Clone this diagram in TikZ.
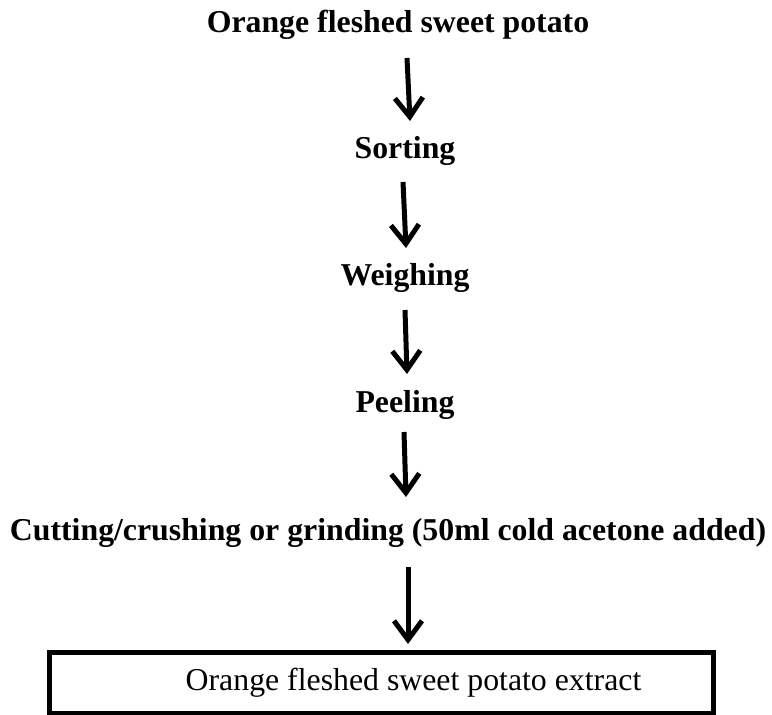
\documentclass[tikz,border=0pt]{standalone}
\usepackage{fontspec}
\setmainfont{Liberation Serif}
\usetikzlibrary{arrows.meta}
\begin{document}
\begin{tikzpicture}[x=1bp,y=-1bp,
  stepname/.style={anchor=base,inner sep=0pt,font=\fontsize{31.8bp}{38bp}\selectfont\bfseries},
  flowarrow/.style={line width=5bp,-{Straight Barb[length=19bp,width=28bp]}},
  finalbox/.style={draw,line width=5bp,minimum width=663bp,minimum height=61bp,inner sep=0pt,
    font=\fontsize{31.8bp}{38bp}\selectfont}]
\useasboundingbox (0,0) rectangle (772,715);
\node[stepname] (ofsp) at (398,33) {Orange fleshed sweet potato};
\node[stepname] (sort) at (405,158) {Sorting};
\node[stepname] (weigh) at (405,285) {Weighing};
\node[stepname] (peel) at (405,412) {Peeling};
\node[stepname] (cut) at (388,540) {Cutting/crushing or grinding (50ml cold acetone added)};
\node[finalbox] (extract) at (381.5,682.5) {\hspace*{64bp}Orange fleshed sweet potato extract};
\coordinate (a1s) at (407,58);  \coordinate (a1e) at (410,121);
\coordinate (a2s) at (403,182); \coordinate (a2e) at (406,248);
\coordinate (a3s) at (405,310); \coordinate (a3e) at (407,374);
\coordinate (a4s) at (404,432); \coordinate (a4e) at (406,497);
\coordinate (a5s) at (408,567); \coordinate (a5e) at (408,644);
\draw[flowarrow] (a1s) -- (a1e);
\draw[flowarrow] (a2s) -- (a2e);
\draw[flowarrow] (a3s) -- (a3e);
\draw[flowarrow] (a4s) -- (a4e);
\draw[flowarrow] (a5s) -- (a5e);
\end{tikzpicture}
\end{document}
